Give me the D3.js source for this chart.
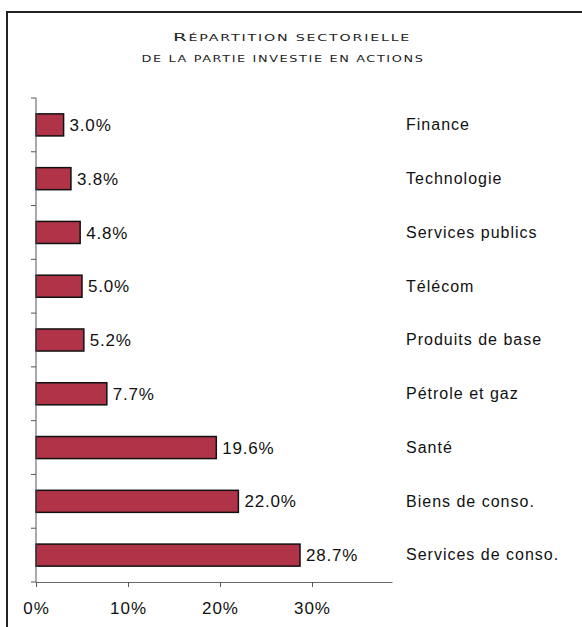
<!DOCTYPE html>
<html>
<head>
<meta charset="utf-8">
<script src="https://cdn.jsdelivr.net/npm/d3@7"></script>
<style>
  html, body { margin: 0; padding: 0; background: #fff; }
  svg { display: block; }
  text { font-family: "Liberation Sans", Arial, sans-serif; fill: #111; }
</style>
</head>
<body>
<svg id="chart" width="582" height="627"></svg>
<script>
// Sector breakdown of the equity portion (%)
const sectors = ["Finance", "Technologie", "Services publics", "Télécom", "Produits de base",
                 "Pétrole et gaz", "Santé", "Biens de conso.", "Services de conso."];
const weights = [3.0, 3.8, 4.8, 5.0, 5.2, 7.7, 19.6, 22.0, 28.7];
const xTicks = [0, 10, 20, 30];
const titleLines = ["Répartition sectorielle", "de la partie investie en actions"];

const svg = d3.select("#chart");

// frame (top and left edges)
svg.append("path")
  .attr("d", "M7,627 V12 H582")
  .attr("fill", "none")
  .attr("stroke", "#222")
  .attr("stroke-width", 2);

// title: hand-built small caps, stretched to a wide engraved look
const titleBox = [{ cx: 292, y: 41, len: 238 }, { cx: 283, y: 62, len: 283 }];
titleLines.forEach((line, i) => {
  const g = svg.append("g");
  const t = g.append("text")
    .attr("text-anchor", "start")
    .style("font-family", "'DejaVu Sans', sans-serif")
    .style("letter-spacing", "1px")
    .style("fill", "#222");
  // split into runs of upper-case / lower-case characters
  const runs = [];
  for (const ch of line) {
    const upper = ch !== ch.toLowerCase() || ch === " ";
    const big = ch !== ch.toLowerCase();
    const last = runs[runs.length - 1];
    if (last && last.big === big) last.s += ch; else runs.push({ big, s: ch });
  }
  t.selectAll("tspan")
    .data(runs)
    .join("tspan")
    .style("font-size", d => d.big ? "11px" : "7.9px")
    .text(d => d.s.toUpperCase());
  const w = t.node().getComputedTextLength();
  const sx = titleBox[i].len / w;
  g.attr("transform", `translate(${titleBox[i].cx - titleBox[i].len / 2},${titleBox[i].y}) scale(${sx},1)`);
});

const x = d3.scaleLinear().domain([0, 38.7]).range([36, 392]);
const y = d3.scaleBand().domain(sectors).range([98, 582]).paddingInner(0.59).paddingOuter(0.295);

// bars
svg.append("g").selectAll("rect")
  .data(weights)
  .join("rect")
  .attr("x", x(0))
  .attr("y", (d, i) => y(sectors[i]))
  .attr("width", d => x(d) - x(0))
  .attr("height", y.bandwidth())
  .attr("fill", "#B03347")
  .attr("stroke", "#111")
  .attr("stroke-width", 1.5);

// value labels
svg.append("g").selectAll("text")
  .data(weights)
  .join("text")
  .attr("x", d => x(d) + 6)
  .attr("y", (d, i) => y(sectors[i]) + y.bandwidth() / 2)
  .attr("dy", "0.36em")
  .style("font-size", "17px")
  .style("letter-spacing", "0.8px")
  .text(d => d.toFixed(1) + "%");

// category labels
svg.append("g").selectAll("text")
  .data(sectors)
  .join("text")
  .attr("x", 406)
  .attr("y", d => y(d) + y.bandwidth() / 2)
  .attr("dy", "0.33em")
  .style("font-size", "16px")
  .style("letter-spacing", "1px")
  .text(d => d);

// y axis: line with ticks on category boundaries
const yAxisG = svg.append("g");
yAxisG.append("line")
  .attr("x1", x(0)).attr("x2", x(0))
  .attr("y1", 98).attr("y2", 582)
  .attr("stroke", "#555");
yAxisG.selectAll("line.tick")
  .data(d3.range(sectors.length + 1))
  .join("line")
  .attr("class", "tick")
  .attr("x1", x(0) - 5).attr("x2", x(0))
  .attr("y1", i => 98 + i * y.step())
  .attr("y2", i => 98 + i * y.step())
  .attr("stroke", "#555");

// x axis
const xAxis = d3.axisBottom(x)
  .tickValues(xTicks)
  .tickFormat(d => d + "%")
  .tickSize(5)
  .tickSizeOuter(0);
const xg = svg.append("g")
  .attr("transform", "translate(0,582)")
  .call(xAxis);
xg.select(".domain").attr("stroke", "#666");
xg.selectAll(".tick line").attr("stroke", "#555");
xg.selectAll(".tick text")
  .attr("dy", null)
  .attr("y", 32)
  .style("font-size", "17px")
  .style("letter-spacing", "1px")
  .style("font-family", "'Liberation Sans', Arial, sans-serif")
  .attr("fill", "#111");
</script>
</body>
</html>
